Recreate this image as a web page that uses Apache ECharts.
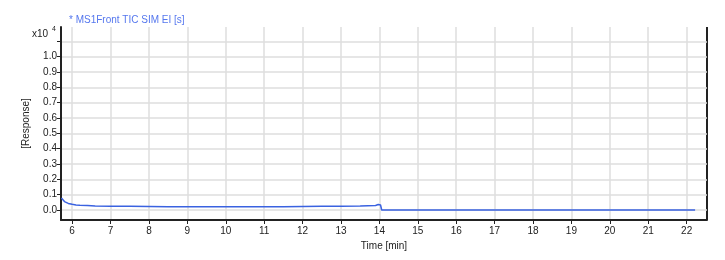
<!DOCTYPE html>
<html><head><meta charset="utf-8">
<script src="https://cdn.jsdelivr.net/npm/echarts@6/dist/echarts.min.js"></script>
<style>html,body{margin:0;padding:0;background:#fff}#c{width:725px;height:260px}</style>
</head><body><div id="c"></div>
<script>
const titleText = '* MS1Front TIC SIM EI [s]';
const xName = 'Time [min]';
const yName = '[Response]';
const xTicks = [6,7,8,9,10,11,12,13,14,15,16,17,18,19,20,21,22];
const yTicks = [0,0.1,0.2,0.3,0.4,0.5,0.6,0.7,0.8,0.9,1.0,1.1];
const times = [5.72,5.75,5.8,5.85,5.9,6.0,6.1,6.2,6.4,6.6,7.0,7.5,8.0,8.5,9.0,9.5,10.0,10.5,11.0,11.5,12.0,12.5,13.0,13.5,13.9,13.97,14.0,14.03,14.06,15,16,17,18,19,20,21,22,22.22];
const response = [0.078,0.065,0.055,0.048,0.043,0.037,0.033,0.031,0.029,0.027,0.025,0.024,0.023,0.022,0.022,0.021,0.021,0.021,0.022,0.022,0.023,0.024,0.025,0.027,0.030,0.036,0.040,0.033,0.0,0.0,0.0,0.0,0.0,0.0,0.0,0.0,0.0,0.0];

const chart = echarts.init(document.getElementById('c'), null, {renderer:'canvas'});
const font = 'Liberation Sans, Arial, sans-serif';
chart.setOption({
  animation:false,
  backgroundColor:'#fff',
  grid:{left:61,right:18,top:27,bottom:40,show:true,borderColor:'#ddd',borderWidth:0},
  title:{text:titleText,left:64,top:10,textStyle:{color:'#5577ee',fontSize:10,fontWeight:'normal',fontFamily:font}},
  xAxis:{type:'value',min:5.71,max:22.53,
    name:xName,nameLocation:'middle',nameGap:13,nameTextStyle:{color:'#222',fontSize:10,fontFamily:font},
    axisLine:{show:true,onZero:false,lineStyle:{color:'#222',width:2}},
    axisTick:{show:true,length:4,customValues:xTicks,lineStyle:{color:'#222'}},
    axisLabel:{customValues:xTicks,color:'#222',fontSize:10,fontFamily:font,margin:6},
    splitLine:{show:true,lineStyle:{color:'#dedede',width:1.5}}},
  yAxis:{type:'value',min:-0.065,max:1.193,
    name:yName,nameLocation:'middle',nameGap:30,nameRotate:90,nameTextStyle:{color:'#222',fontSize:10,fontFamily:font},
    axisLine:{show:true,onZero:false,lineStyle:{color:'#222',width:2}},
    axisTick:{show:true,length:4,customValues:yTicks,lineStyle:{color:'#222'}},
    axisLabel:{customValues:yTicks,color:'#222',fontSize:10,fontFamily:font,margin:4,
      formatter:function(v){ if (Math.abs(v-1.1)<1e-6) return ''; return v.toFixed(1);}},
    splitLine:{show:true,lineStyle:{color:'#dedede',width:1.5}}},
  graphic:[
    {type:'text',left:32,top:29,style:{text:'x10',fill:'#222',font:'10px '+font}},
    {type:'text',left:52,top:26,style:{text:'4',fill:'#222',font:'7px '+font}},
    {type:'line',shape:{x1:707,y1:27,x2:707,y2:220},style:{stroke:'#222',lineWidth:2}}
  ],
  series:[{type:'line',data:times.map((t,i)=>[t,response[i]]),showSymbol:false,
    lineStyle:{color:'#3a62e0',width:1.5},smooth:false}]
});
</script></body></html>
